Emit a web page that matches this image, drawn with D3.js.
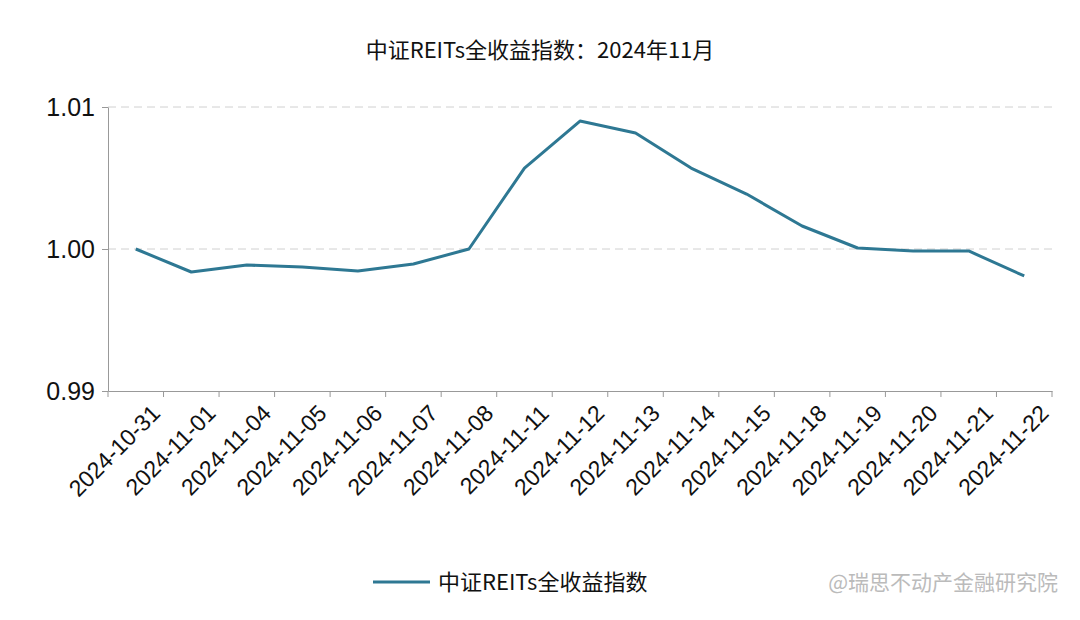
<!DOCTYPE html><html><head><meta charset="utf-8"><script src="https://cdn.jsdelivr.net/npm/d3@7"></script>
<style>body{margin:0;background:#fff;font-family:"Noto Sans CJK SC","Noto Sans",sans-serif}</style></head><body><svg id="c" width="1080" height="620"></svg><script>
const dates=["2024-10-31","2024-11-01","2024-11-04","2024-11-05","2024-11-06","2024-11-07","2024-11-08","2024-11-11","2024-11-12","2024-11-13","2024-11-14","2024-11-15","2024-11-18","2024-11-19","2024-11-20","2024-11-21","2024-11-22"];
const values=[1.0000,0.99838,0.99887,0.99873,0.99845,0.99894,1.0000,1.00570,1.00901,1.00817,1.00570,1.00387,1.00162,1.00007,0.99986,0.99986,0.99810];
const yTicks=[0.99,1.00,1.01];
const seriesName="中证REITs全收益指数";
const color="#2e7893";
const svg=d3.select("#c");
const x=d3.scaleBand().domain(dates).range([108,1052]);
const y=d3.scaleLinear().domain([0.99,1.01]).range([391,107]);
svg.append("text").attr("x",540).attr("y",58).attr("text-anchor","middle").attr("font-size",22).attr("fill","#111").text("中证REITs全收益指数：2024年11月");
svg.selectAll(".g").data(yTicks.slice(1)).join("line").attr("x1",108).attr("x2",1052).attr("y1",d=>y(d)).attr("y2",d=>y(d)).attr("stroke","#d0d0d0").attr("stroke-dasharray","8,5");
const ya=svg.append("g").attr("transform","translate(108,0)").call(d3.axisLeft(y).tickValues(yTicks).tickFormat(d3.format(".2f")).tickSize(6).tickSizeOuter(0));
ya.selectAll("text").attr("font-size",25).attr("font-family","Liberation Sans,Arial").attr("fill","#111").attr("dx",-4);
ya.select(".domain").attr("stroke","#999");ya.selectAll("line").attr("stroke","#999");
const xa=svg.append("g").attr("transform","translate(0,391)").call(d3.axisBottom(x).tickSize(0).tickSizeOuter(0));
xa.select(".domain").attr("stroke","#999");
xa.selectAll("text").attr("font-size",23).attr("font-family","Liberation Sans,Arial").attr("fill","#111").attr("text-anchor","end").attr("transform","translate(18,16) rotate(-45)").attr("dy","0.35em");
svg.append("g").selectAll("line").data(dates.concat([null])).join("line").attr("x1",(d,i)=>108+i*x.step()).attr("x2",(d,i)=>108+i*x.step()).attr("y1",391).attr("y2",397).attr("stroke","#999");
svg.append("path").datum(values).attr("fill","none").attr("stroke",color).attr("stroke-width",3).attr("stroke-linejoin","round")
 .attr("d",d3.line().x((d,i)=>x(dates[i])+x.bandwidth()/2).y(d=>y(d)));
svg.append("line").attr("x1",373).attr("x2",430).attr("y1",582).attr("y2",582).attr("stroke",color).attr("stroke-width",3);
svg.append("text").attr("x",438).attr("y",590).attr("font-size",22).attr("fill","#111").text(seriesName);
svg.append("text").attr("x",1058).attr("y",590).attr("text-anchor","end").attr("font-size",21).attr("fill","#bbb").text("@瑞思不动产金融研究院");
</script></body></html>
